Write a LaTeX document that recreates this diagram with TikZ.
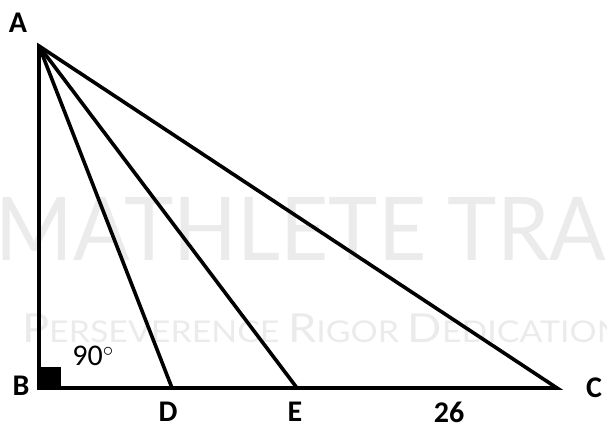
\documentclass[tikz,border=0pt]{standalone}
\usepackage{fontspec}
\setmainfont{Carlito}
\newfontfamily\wmfont{Lato}

\begin{document}
\begin{tikzpicture}[x=1pt, y=-1pt, line width=3.6pt, line join=miter,
    vertexlabel/.style={inner sep=0pt, font=\fontsize{30}{30}\selectfont\bfseries},
    anglelabel/.style={inner sep=0pt, font=\fontsize{30}{30}\selectfont},
    wmbig/.style={inner sep=0pt, anchor=base west, text=black!8, xscale=0.95, transform shape, font=\wmfont\fontsize{88}{88}\selectfont},
    wmsmall/.style={inner sep=0pt, anchor=base west, text=black!8, xscale=1.13, transform shape, font=\wmfont\fontsize{30}{30}\selectfont}]
            \useasboundingbox (0,0) rectangle (607,423);
            % --- Watermark ---
            \node[wmbig] (wmTitle) at (-6,260) {MATHLETE TRA};
            \node[wmsmall] (wmMotto) at (20,342) {{\fontsize{40}{40}\selectfont P}ERSEVERENCE {\fontsize{40}{40}\selectfont R}IGOR {\fontsize{40}{40}\selectfont D}EDICATION};

            % --- Vertices ---
            \coordinate (A) at (39,46);
            \coordinate (B) at (39,388);
            \coordinate (D) at (172,388);
            \coordinate (E) at (297,388);
            \coordinate (C) at (557,388);

            % --- Labels ---
            \node[vertexlabel] (lA) at (18,23) {A};
            \node[vertexlabel] (lB) at (21,386) {B};
            \node[vertexlabel] (lC) at (594,388) {C};
            \node[vertexlabel] (lD) at (168,412) {D};
            \node[vertexlabel] (lE) at (295,412) {E};
            \node[vertexlabel] (l26) at (449,412) {26};
            \node[anglelabel] (l90) at (93,356) {90$^{\circ}$};

            % --- Triangle and Cevians ---
            \fill (B) rectangle ++(22,-21);
            \draw (A) -- (B) -- (C) -- cycle;
            \draw (A) -- (D);
            \draw (A) -- (E);
\end{tikzpicture}
\end{document}
